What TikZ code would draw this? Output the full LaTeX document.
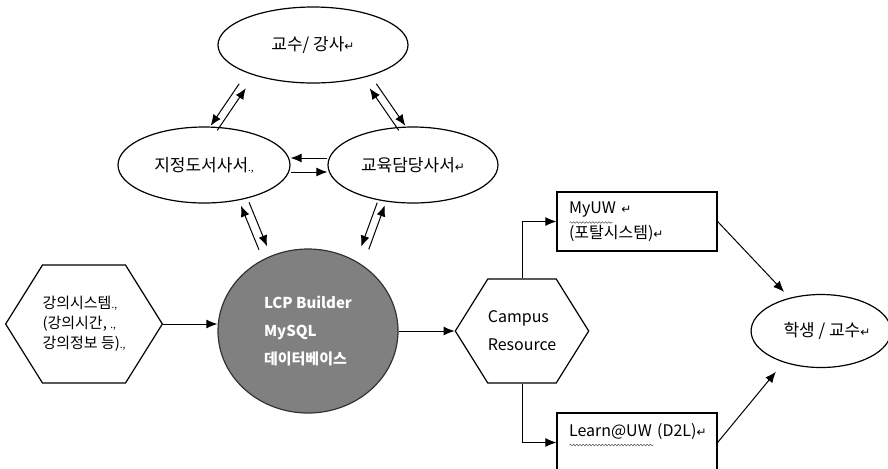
\documentclass[tikz,border=0pt]{standalone}
\usepackage{fontspec}
\setmainfont{Noto Sans CJK KR}
\newfontfamily\symfont{DejaVu Sans}
\usetikzlibrary{shapes.geometric,shapes.symbols,arrows.meta,calc,decorations.pathmorphing}
\newcommand{\ret}{{\symfont\fontsize{6}{6}\selectfont ↵}}
\newcommand{\pmk}{{\fontsize{5}{5}\selectfont .,}}
% two arrows side by side, one each way
\newcommand{\twoway}[4]{%
  \draw[->] ($(#1)!#4!#3:(#2)$) -- ($(#2)!-#4!#3:(#1)$);
  \draw[->] ($(#2)!#4!#3:(#1)$) -- ($(#1)!-#4!#3:(#2)$);}

\begin{document}
\begin{tikzpicture}[x=0.5pt,y=-0.5pt,>={Latex[length=5.5pt,width=4.5pt]},line width=0.5pt,
  oval/.style={ellipse,draw,line width=0.6pt,inner sep=0pt,font=\fontsize{8.5}{10}\selectfont},
  hexa/.style={signal,signal to=east and west,signal pointer angle=116,draw,line width=0.6pt,inner sep=0pt,align=left},
  panel/.style={rectangle,draw,line width=0.6pt,minimum width=80pt,minimum height=29.5pt,text width=68pt,inner xsep=6pt,inner ysep=0pt,align=left,font=\fontsize{8}{12.5}\selectfont},
  wavy/.style={decorate,decoration={snake,amplitude=0.4pt,segment length=1.6pt},black!60,line width=0.3pt}]
\useasboundingbox (0,0) rectangle (888,468);
\clip (0,0) rectangle (888,468);

% people and librarians
\node[oval,minimum width=95pt,minimum height=38pt] (prof) at (313,45) {교수/ 강사\ret};
\node[oval,minimum width=86pt,minimum height=38pt] (lib) at (204,165) {지정도서사서\pmk};
\node[oval,minimum width=85pt,minimum height=38pt] (edu) at (413,165) {교육담당사서\ret};

% database
\node[oval,minimum width=90pt,minimum height=82pt,fill=gray,draw=black!80,text=white,align=left,
  font=\bfseries\fontsize{7.5}{14}\selectfont] (lcp) at (308,331) {LCP Builder\\MySQL\\데이터베이스};

% sources and outputs
\node[hexa,minimum width=74pt,minimum height=59pt,font=\fontsize{7.5}{10}\selectfont] (src) at (84,324)
  {강의시스템\pmk\\(강의시간, \pmk\\강의정보 등)\pmk};
\node[hexa,minimum width=64.5pt,minimum height=52pt,font=\fontsize{8}{14}\selectfont] (campus) at (522,331)
  {Campus\\Resource};
\node[panel] (myuw) at (637,221.5) {MyUW \ret\\(포탈시스템)\ret};
\node[panel] (learn) at (637,442.5) {\mbox{Learn@UW (D2L)\ret}\\\mbox{}};
\node[oval,minimum width=65pt,minimum height=36.5pt] (users) at (821,331) {\hspace{6pt}학생 / 교수\ret};

% ends of the paired arrows
\coordinate (p1a) at ([shift={(-70.5,41)}]prof.center);
\coordinate (p1b) at ([shift={(10,-37)}]lib.center);
\coordinate (p2a) at ([shift={(60,41)}]prof.center);
\coordinate (p2b) at ([shift={(-11,-37)}]edu.center);
\coordinate (p4a) at ([shift={(41,39)}]lib.center);
\coordinate (p4b) at ([shift={(-45,-83)}]lcp.center);
\coordinate (p5a) at ([shift={(-32,39)}]edu.center);
\coordinate (p5b) at ([shift={(57,-83)}]lcp.center);

\twoway{p1a}{p1b}{-90}{2pt}
\twoway{p2a}{p2b}{90}{2pt}
\twoway{lib.east}{edu.west}{-90}{3.5pt}
\twoway{p4a}{p4b}{90}{2.2pt}
\twoway{p5a}{p5b}{-90}{2pt}

\draw[->] (src.east) -- (src.east -| lcp.west);
\draw[->] (lcp.east) -- (lcp.east -| campus.west);
\draw[->] (campus.north) |- (myuw.west);
\draw[->] (campus.south) |- (learn.west);
\draw[->,shorten >=4pt] (myuw.east) -- (users);
\draw[->,shorten >=6pt] (learn.east) -- (users.220);

% spelling marks
\draw[wavy] ([shift={(13,1)}]myuw.west) -- ([shift={(56,1)}]myuw.west);
\draw[wavy] ([shift={(13,2.5)}]learn.west) -- ([shift={(97,2.5)}]learn.west);
\end{tikzpicture}
\end{document}
